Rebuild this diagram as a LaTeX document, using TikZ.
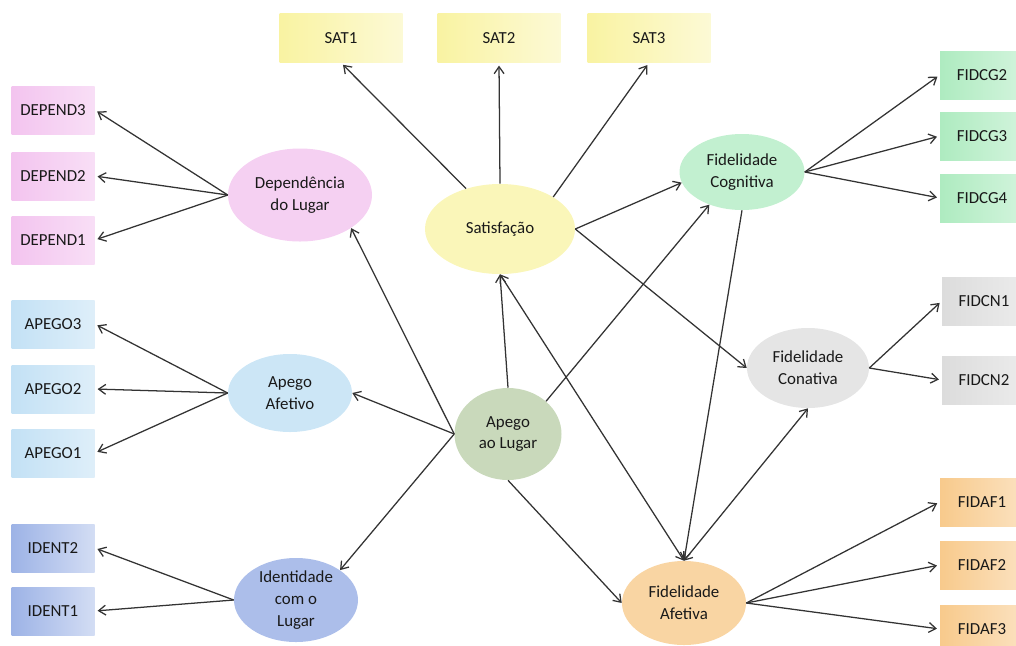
\documentclass[tikz,border=0pt]{standalone}
\usepackage{fontspec}
\setmainfont{Carlito}
\usetikzlibrary{shapes.geometric,arrows.meta}

\definecolor{deppink}{HTML}{F3C4EF}
\definecolor{apeblue}{HTML}{C3E1F5}
\definecolor{ideblue}{HTML}{9DB3E6}
\definecolor{satyell}{HTML}{F9F3A2}
\definecolor{aplsage}{HTML}{C9D9BB}
\definecolor{coggreen}{HTML}{AEEBC0}
\definecolor{congray}{HTML}{DCDCDC}
\definecolor{afeorange}{HTML}{F8CA8C}

\begin{document}
\begin{tikzpicture}[
    font=\fontsize{12}{15.5}\selectfont,
    ind/.style={rectangle, minimum width=2.075cm, minimum height=1.2cm, inner sep=0pt, text=black!90},
    depbox/.style={ind, left color=deppink, right color=deppink!55!white},
    apebox/.style={ind, left color=apeblue, right color=apeblue!55!white},
    idebox/.style={ind, left color=ideblue, right color=ideblue!45!white},
    satbox/.style={ind, minimum width=3.075cm, minimum height=1.225cm, left color=satyell, right color=satyell!45!white},
    cogbox/.style={ind, minimum width=2.1cm, left color=coggreen, right color=coggreen!55!white},
    conbox/.style={ind, minimum width=2.1cm, left color=congray, right color=congray!55!white},
    afebox/.style={ind, minimum width=2.1cm, left color=afeorange, right color=afeorange!55!white},
    lat/.style={ellipse, inner sep=0pt, align=center, text=black!90},
    path/.style={-{Straight Barb[length=5pt,width=7pt]}, line width=0.9pt, draw=black!80},
    twoway/.style={path, {Straight Barb[length=5pt,width=7pt]}-{Straight Barb[length=5pt,width=7pt]}},
    load/.style={path, shorten >=2pt},
  ]
    \useasboundingbox (0,0) rectangle (25.4,-16.125);

    % Indicators on the left
    \node[depbox] (dep3) at (1.325,-2.75) {DEPEND3};
    \node[depbox] (dep2) at (1.325,-4.4) {DEPEND2};
    \node[depbox] (dep1) at (1.325,-6.0) {DEPEND1};
    \node[apebox] (ape3) at (1.325,-8.1) {APEGO3};
    \node[apebox] (ape2) at (1.325,-9.725) {APEGO2};
    \node[apebox] (ape1) at (1.325,-11.325) {APEGO1};
    \node[idebox] (ide2) at (1.325,-13.7) {IDENT2};
    \node[idebox] (ide1) at (1.325,-15.275) {IDENT1};

    % Indicators on top
    \node[satbox] (sat1) at (8.525,-0.95) {SAT1};
    \node[satbox] (sat2) at (12.475,-0.95) {SAT2};
    \node[satbox] (sat3) at (16.225,-0.95) {SAT3};

    % Indicators on the right
    \node[cogbox] (cog2) at (24.55,-1.875) {FIDCG2};
    \node[cogbox] (cog3) at (24.55,-3.4) {FIDCG3};
    \node[cogbox] (cog4) at (24.55,-4.95) {FIDCG4};
    \node[conbox] (con1) at (24.6,-7.525) {FIDCN1};
    \node[conbox] (con2) at (24.6,-9.5) {FIDCN2};
    \node[afebox] (afe1) at (24.55,-12.55) {FIDAF1};
    \node[afebox] (afe2) at (24.55,-14.125) {FIDAF2};
    \node[afebox] (afe3) at (24.55,-15.725) {FIDAF3};

    % Latent constructs
    \node[lat, fill=deppink!80, minimum width=3.6cm, minimum height=2.325cm] (dep) at (7.5,-4.875) {Dependência\\do Lugar};
    \node[lat, fill=apeblue!85, minimum width=3.1cm, minimum height=1.95cm] (aaf) at (7.25,-9.825) {Apego\\Afetivo};
    \node[lat, fill=ideblue!85, minimum width=3.1cm, minimum height=2.1cm] (idl) at (7.4,-15.0) {Identidade\\com o\\Lugar};
    \node[lat, fill=satyell!75, minimum width=3.75cm, minimum height=2.25cm] (sat) at (12.5,-5.725) {Satisfação};
    \node[lat, fill=aplsage, minimum width=2.675cm, minimum height=2.3cm] (apl) at (12.7,-10.85) {Apego\\ao Lugar};
    \node[lat, fill=coggreen!75, minimum width=3.125cm, minimum height=1.9cm] (cog) at (18.55,-4.3) {Fidelidade\\Cognitiva};
    \node[lat, fill=congray!75, minimum width=3.05cm, minimum height=2.0cm] (con) at (20.2,-9.2) {Fidelidade\\Conativa};
    \node[lat, fill=afeorange!80, minimum width=3.1cm, minimum height=2.1cm] (afe) at (17.1,-15.075) {Fidelidade\\Afetiva};

    % Loadings
    \draw[load] (dep.west) -- (dep3.east);
    \draw[load] (dep.west) -- (dep2.east);
    \draw[load] (dep.west) -- (dep1.east);
    \draw[load] (aaf.west) -- (ape3.east);
    \draw[load] (aaf.west) -- (ape2.east);
    \draw[load] (aaf.west) -- (ape1.east);
    \draw[load] (idl.west) -- (ide2.east);
    \draw[load] (idl.west) -- (ide1.east);
    \draw[load] (sat.130) -- (sat1.south);
    \draw[load] (sat.north) -- (sat2.south);
    \draw[load] (sat.north east) -- (sat3.south);
    \draw[load] (cog.east) -- (cog2.west);
    \draw[load] (cog.east) -- (cog3.west);
    \draw[load] (cog.east) -- (cog4.west);
    \draw[load] (con.east) -- (con1.west);
    \draw[load] (con.east) -- (con2.west);
    \draw[load] (afe.east) -- (afe1.west);
    \draw[load] (afe.east) -- (afe2.west);
    \draw[load] (afe.east) -- (afe3.west);

    % Structural paths
    \draw[path] (apl.west) -- (dep.south east);
    \draw[path] (apl.west) -- (aaf.east);
    \draw[path] (apl.west) -- (idl.north east);
    \draw[path] (apl.north) -- (sat.south);
    \draw[path] (apl.north east) -- (cog.225);
    \draw[path] (apl.south) -- (afe.west);
    \draw[path] (sat.east) -- (cog.190);
    \draw[path] (sat.east) -- (con.west);
    \draw[path] (cog.south) -- (afe.north);
    \draw[twoway] (sat.south) -- (afe.north);
    \draw[twoway] (afe.north) -- (con.south);
\end{tikzpicture}
\end{document}
